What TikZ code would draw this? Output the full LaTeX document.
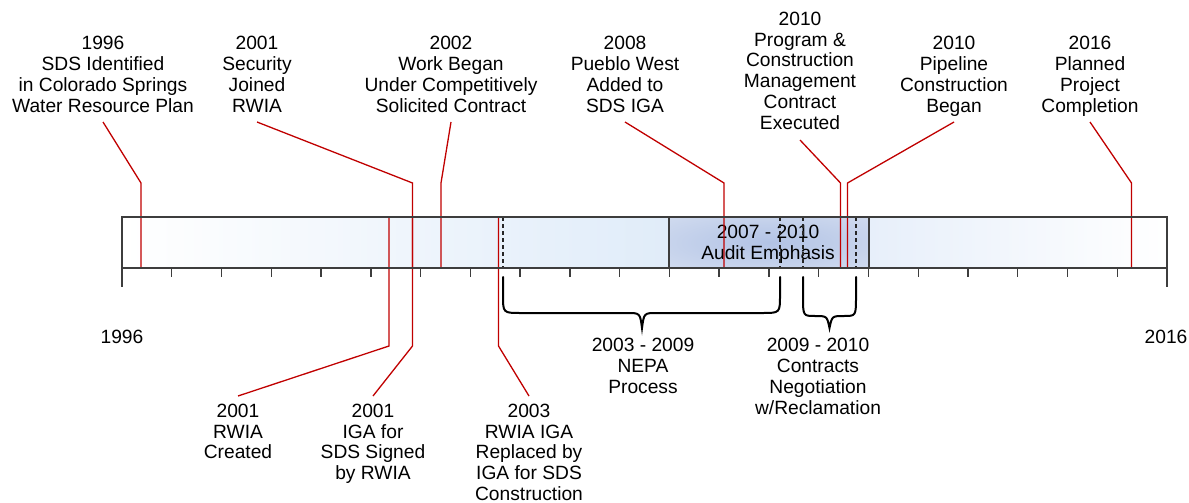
\documentclass[tikz,border=0pt]{standalone}
\usepackage{fontspec}
\setmainfont{Liberation Sans}
\usetikzlibrary{positioning}

\definecolor{auditcore}{RGB}{178,195,229}
\definecolor{auditedge}{RGB}{220,228,243}
% soft glow over the whole audit window
\pgfdeclareradialshading{auditglow}{\pgfpoint{0bp}{0bp}}{%
  color(0bp)=(auditcore); color(50bp)=(auditedge); color(72bp)=(auditedge)}

\begin{document}
\begin{tikzpicture}[
  x=1pt, y=-1pt,
  font=\fontsize{19.2}{20.9}\selectfont,
  frame/.style={draw=black!76, line width=1.4pt},
  tick/.style={black!76, line width=1.4pt},
  divider/.style={black!85, line width=1.3pt, dash pattern=on 4pt off 3pt},
  leader/.style={milestone, line width=1.3pt},
  curly/.style={black, line width=2pt, line cap=round},
  evt/.style={align=center, inner sep=0pt, anchor=north},
]
\definecolor{milestone}{RGB}{192,0,0}
\definecolor{barblue}{RGB}{224,236,249}
\definecolor{barfade}{RGB}{231,239,250}
\useasboundingbox (0,0) rectangle (1189,503);
% rows where the leaders start and bend
\coordinate (toprow) at (0,122);
\coordinate (pcmrow) at (0,140);
\coordinate (botrow) at (0,396);
% the bar: shaded left part, audit window, shaded right part
\shade[left color=white, right color=barblue] (122,217) rectangle (669,268);
\shade[shading=auditglow] (669,217) rectangle (869,268);
\shade[left color=barfade, right color=white] (869,217) rectangle (1167,268);
\node[evt] (audit) at (768,225) {2007 - 2010\\Audit Emphasis};
% year ticks under the bar
\foreach \i in {0,...,21}
  \draw[tick] ({122+\i*49.762},268) -- ++(0,9);
\draw[tick] (122,217) -- (122,287) (1167,217) -- (1167,287);
% start and end of the two periods
\foreach \x in {503,780,803,856}
  \draw[divider] (\x,217) -- (\x,268);
% events above the bar
\node[evt] (sds)       at (103,36)    {1996\\SDS Identified\\in Colorado Springs\\Water Resource Plan};
\node[evt] (security)  at (257,36)    {2001\\Security\\Joined\\RWIA};
\node[evt] (workbegan) at (451,36)    {2002\\Work Began\\Under Competitively\\Solicited Contract};
\node[evt] (pueblo)    at (625,36)    {2008\\Pueblo West\\Added to\\SDS IGA};
\node[evt] (pcm)       at (800,11.5)  {2010\\Program \&\\Construction\\Management\\Contract\\Executed};
\node[evt] (pipeline)  at (954,36)    {2010\\Pipeline\\Construction\\Began};
\node[evt] (planned)   at (1090,36)   {2016\\Planned\\Project\\Completion};
% events below the bar
\node[evt] (created)   at (238,403.5) {2001\\RWIA\\Created};
\node[evt] (signed)    at (373,403.5) {2001\\IGA for\\SDS Signed\\by RWIA};
\node[evt] (replaced)  at (529,403.5) {2003\\RWIA IGA\\Replaced by\\IGA for SDS\\Construction};
% leaders from the events to the bar
\draw[leader] (sds |- toprow) -- (141,183) -- (141,268);
\draw[leader] (security |- toprow) -- (412.5,183) -- (412.5,268);
\draw[leader] (workbegan |- toprow) -- (441,183) -- (441,268);
\draw[leader] (pueblo |- toprow) -- (724,183) -- (724,268);
\draw[leader] (pcm |- pcmrow) -- (840.5,183) -- (840.5,268);
\draw[leader] (pipeline |- toprow) -- (847.5,183) -- (847.5,268);
\draw[leader] (planned |- toprow) -- (1131.5,183) -- (1131.5,268);
\draw[leader] (created |- botrow) -- (389,346) -- (389,217);
\draw[leader] (signed |- botrow) -- (412.5,346) -- (412.5,217);
\draw[leader] (replaced |- botrow) -- (498.5,346) -- (498.5,217);
% outline of the bar and the audit window
\draw[frame] (122,217) rectangle (1167,268);
\draw[frame] (669,217) -- (669,268) (869,217) -- (869,268);
% braces under the two periods
\draw[curly] (503,277) -- (503,295) .. controls (503,313) .. (521,313) -- (627,313)
  .. controls (640,313) .. (642,328) .. controls (644,313) .. (657,313) -- (762,313)
  .. controls (780,313) .. (780,295) -- (780,277);
\draw[curly] (803,277) -- (803,296) .. controls (803,316) .. (815,316)
  .. controls (827,316) .. (829.5,328) .. controls (832,316) .. (844,316)
  .. controls (856,316) .. (856,296) -- (856,277);
\node[evt] (nepa)      at (643,338)   {2003 - 2009\\NEPA\\Process};
\node[evt] (contracts) at (818,338)   {2009 - 2010\\Contracts\\Negotiation\\w/Reclamation};
% first and last year
\node[evt] (first) at (122,329.5) {1996};
\node[evt] (last)  at (1166,329.5) {2016};
\end{tikzpicture}
\end{document}
